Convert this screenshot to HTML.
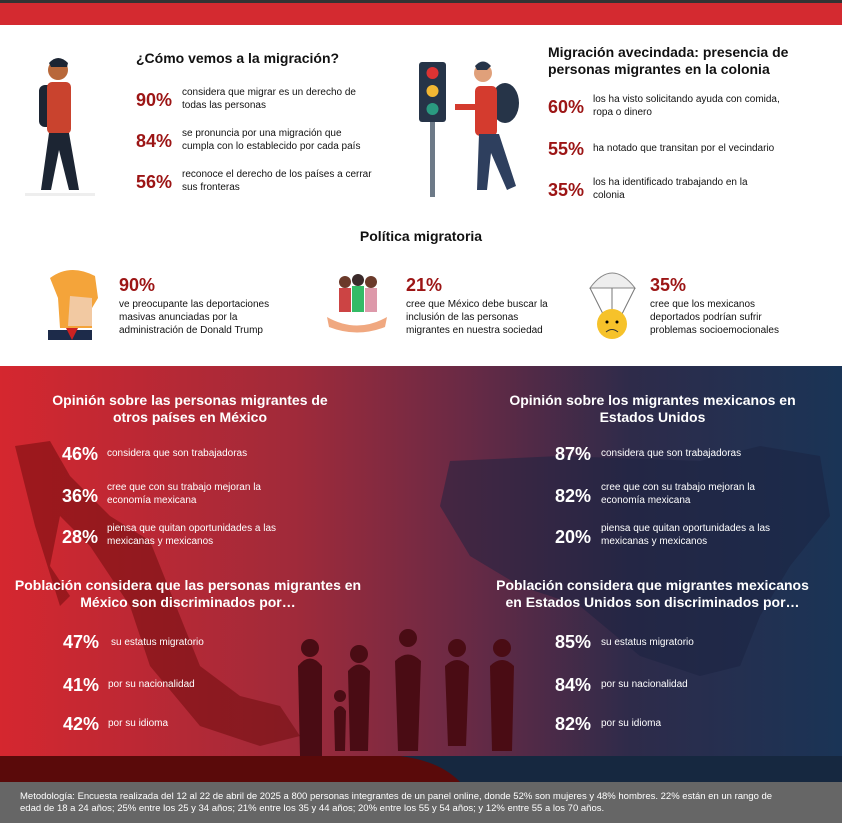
<!DOCTYPE html>
<html><head><meta charset="utf-8"><style>
*{margin:0;padding:0;box-sizing:border-box}
body{width:842px;height:823px;position:relative;overflow:hidden;background:#fff;font-family:"Liberation Sans",sans-serif;color:#111}
.a{position:absolute}
.h{font-weight:bold;font-size:14px;line-height:17px}
.n{font-weight:bold;font-size:18px;color:#9c1515;position:absolute}
.t{font-size:10px;line-height:13px;position:absolute}
.w .n{color:#fff}
.w .t{color:#fff}
.w .h{color:#fff}
</style></head><body>
<div class="a" style="left:0;top:0;width:842px;height:3px;background:#333"></div>
<div class="a" style="left:0;top:3px;width:842px;height:22px;background:#d42a30"></div>

<svg class="a" style="left:25px;top:55px" width="70" height="145">
<circle cx="33" cy="15" r="10" fill="#b8683a"/><path d="M24 8 Q33 -2 43 8 L42 12 L26 12Z" fill="#1c2533"/>
<rect x="14" y="30" width="18" height="42" rx="6" fill="#1c2533"/>
<rect x="22" y="27" width="24" height="52" rx="5" fill="#c9432e"/>
<path d="M24 78 L16 135 L26 135 L34 95 L44 135 L54 135 L44 78Z" fill="#1c2533"/>
<rect x="0" y="138" width="70" height="3" fill="#eee"/>
</svg>
<div class="a h" style="left:136px;top:50px">¿Cómo vemos a la migración?</div>
<div class="n" style="left:136px;top:90px">90%</div><div class="t" style="left:182px;top:86px">considera que migrar es un derecho de<br>todas las personas</div>
<div class="n" style="left:136px;top:131px">84%</div><div class="t" style="left:182px;top:127px">se pronuncia por una migración que<br>cumpla con lo establecido por cada país</div>
<div class="n" style="left:136px;top:172px">56%</div><div class="t" style="left:182px;top:168px">reconoce el derecho de los países a cerrar<br>sus fronteras</div>

<svg class="a" style="left:415px;top:58px" width="120" height="140">
<rect x="4" y="4" width="27" height="60" rx="3" fill="#263448"/>
<circle cx="17.5" cy="15" r="6" fill="#d33"/><circle cx="17.5" cy="33" r="6" fill="#f2b733"/><circle cx="17.5" cy="51" r="6" fill="#2a9a80"/>
<rect x="15" y="64" width="5" height="75" fill="#6d7a88"/>
<circle cx="68" cy="15" r="9" fill="#e0a07a"/><path d="M60 8 Q68 -1 76 8 L72 12 L62 12Z" fill="#263448"/>
<ellipse cx="90" cy="45" rx="14" ry="20" fill="#263448"/>
<rect x="60" y="28" width="22" height="50" rx="5" fill="#d43b2e"/>
<rect x="40" y="46" width="25" height="6" fill="#d43b2e"/>
<path d="M64 76 L62 132 L72 132 L76 95 L92 132 L101 128 L84 76Z" fill="#2e3f5e"/>
</svg>
<div class="a h" style="left:548px;top:44px">Migración avecindada: presencia de<br>personas migrantes en la colonia</div>
<div class="n" style="left:548px;top:97px">60%</div><div class="t" style="left:593px;top:93px">los ha visto solicitando ayuda con comida,<br>ropa o dinero</div>
<div class="n" style="left:548px;top:139px">55%</div><div class="t" style="left:593px;top:142px">ha notado que transitan por el vecindario</div>
<div class="n" style="left:548px;top:180px">35%</div><div class="t" style="left:593px;top:176px">los ha identificado trabajando en la<br>colonia</div>

<div class="a h" style="left:0;width:842px;text-align:center;top:228px">Política migratoria</div>
<svg class="a" style="left:40px;top:268px" width="60" height="72"><path d="M10 10 Q30 -5 55 8 L58 30 L52 40 L52 60 L20 60 L18 30Z" fill="#f4a43a"/><path d="M8 62 L52 62 L52 72 L8 72Z" fill="#1d2b4a"/><path d="M26 60 L32 72 L38 60Z" fill="#c22"/><path d="M30 28 L52 30 L52 58 L28 58Z" fill="#f2c9a2"/></svg>
<div class="n" style="left:119px;top:275px">90%</div><div class="t" style="left:119px;top:298px">ve preocupante las deportaciones<br>masivas anunciadas por la<br>administración de Donald Trump</div>
<svg class="a" style="left:325px;top:272px" width="65" height="65"><circle cx="20" cy="10" r="6" fill="#6b3a2a"/><circle cx="33" cy="8" r="6" fill="#3a2a2a"/><circle cx="46" cy="10" r="6" fill="#6b3a2a"/><rect x="14" y="16" width="12" height="24" fill="#c44"/><rect x="27" y="14" width="12" height="26" fill="#3b6"/><rect x="40" y="16" width="12" height="24" fill="#d9a"/><path d="M2 45 Q32 62 62 45 L60 55 Q32 66 4 55Z" fill="#f0a880"/></svg>
<div class="n" style="left:406px;top:275px">21%</div><div class="t" style="left:406px;top:298px">cree que México debe buscar la<br>inclusión de las personas<br>migrantes en nuestra sociedad</div>
<svg class="a" style="left:585px;top:266px" width="55" height="78"><path d="M5 22 Q27 -8 50 22Z" fill="#eee" stroke="#888"/><path d="M5 22 L20 52 M50 22 L35 52 M27 22 L27 50" stroke="#777"/><circle cx="27" cy="58" r="15" fill="#f6c22a"/><path d="M21 66 Q27 61 33 66" stroke="#333" fill="none"/><circle cx="22" cy="56" r="1.5"/><circle cx="32" cy="56" r="1.5"/></svg>
<div class="n" style="left:650px;top:275px">35%</div><div class="t" style="left:650px;top:298px">cree que los mexicanos<br>deportados podrían sufrir<br>problemas socioemocionales</div>

<div class="a" style="left:0;top:366px;width:842px;height:416px;background:linear-gradient(90deg,#d5272f 0%,#a02a3a 35%,#6a2a45 55%,#2e2b4a 75%,#1a3456 100%)"></div>
<svg class="a" style="left:0;top:366px" width="842" height="416">
<path d="M15 80 L50 75 L70 110 L110 150 L150 175 L180 250 L200 300 L240 330 L280 340 L300 370 L260 380 L200 360 L150 300 L130 240 L90 180 L60 150 L50 200 L70 230 L60 240 L35 160Z" fill="#6a0a0a" opacity=".5"/>
<path d="M450 95 L560 90 L700 95 L760 80 L820 90 L830 150 L790 200 L760 250 L740 300 L700 310 L640 290 L580 240 L520 220 L470 190 L440 140Z" fill="#1a2140" opacity=".5"/>
<rect x="0" y="390" width="842" height="26" fill="#5a0a0a"/>
<path d="M400 390 Q440 395 460 416 L842 416 L842 390Z" fill="#162840"/>
<g fill="#4a0c14"><path d="M298 300 Q310 285 322 300 L322 390 L300 390Z"/><path d="M348 305 Q359 292 370 305 L368 385 L350 385Z"/><path d="M395 295 Q408 282 421 295 L418 385 L398 385Z"/><path d="M445 300 Q457 288 469 300 L466 380 L448 380Z"/><path d="M490 300 Q502 288 514 300 L512 385 L492 385Z"/><path d="M334 345 Q340 335 346 345 L345 385 L335 385Z"/>
<circle cx="310" cy="282" r="9"/><circle cx="359" cy="288" r="9"/><circle cx="408" cy="272" r="9"/><circle cx="457" cy="282" r="9"/><circle cx="502" cy="282" r="9"/><circle cx="340" cy="330" r="6"/></g>
</svg>
<div class="w">
<div class="a h" style="left:30px;width:320px;text-align:center;top:392px">Opinión sobre las personas migrantes de<br>otros países en México</div>
<div class="n" style="left:62px;top:444px">46%</div><div class="t" style="left:107px;top:447px">considera que son trabajadoras</div>
<div class="n" style="left:62px;top:486px">36%</div><div class="t" style="left:107px;top:481px">cree que con su trabajo mejoran la<br>economía mexicana</div>
<div class="n" style="left:62px;top:527px">28%</div><div class="t" style="left:107px;top:522px">piensa que quitan oportunidades a las<br>mexicanas y mexicanos</div>
<div class="a h" style="left:0;width:376px;text-align:center;top:577px">Población considera que las personas migrantes en<br>México son discriminados por…</div>
<div class="n" style="left:63px;top:632px">47%</div><div class="t" style="left:111px;top:636px">su estatus migratorio</div>
<div class="n" style="left:63px;top:675px">41%</div><div class="t" style="left:108px;top:678px">por su nacionalidad</div>
<div class="n" style="left:63px;top:714px">42%</div><div class="t" style="left:108px;top:717px">por su idioma</div>

<div class="a h" style="left:490px;width:325px;text-align:center;top:392px">Opinión sobre los migrantes mexicanos en<br>Estados Unidos</div>
<div class="n" style="left:555px;top:444px">87%</div><div class="t" style="left:601px;top:447px">considera que son trabajadoras</div>
<div class="n" style="left:555px;top:486px">82%</div><div class="t" style="left:601px;top:481px">cree que con su trabajo mejoran la<br>economía mexicana</div>
<div class="n" style="left:555px;top:527px">20%</div><div class="t" style="left:601px;top:522px">piensa que quitan oportunidades a las<br>mexicanas y mexicanos</div>
<div class="a h" style="left:490px;width:325px;text-align:center;top:577px">Población considera que migrantes mexicanos<br>en Estados Unidos son discriminados por…</div>
<div class="n" style="left:555px;top:632px">85%</div><div class="t" style="left:601px;top:636px">su estatus migratorio</div>
<div class="n" style="left:555px;top:675px">84%</div><div class="t" style="left:601px;top:678px">por su nacionalidad</div>
<div class="n" style="left:555px;top:714px">82%</div><div class="t" style="left:601px;top:717px">por su idioma</div>
</div>

<div class="a" style="left:0;top:782px;width:842px;height:41px;background:#666"></div>
<div class="a" style="left:20px;top:791px;width:800px;font-size:9.5px;line-height:12px;color:#fff">Metodología: Encuesta realizada del 12 al 22 de abril de 2025 a 800 personas integrantes de un panel online, donde 52% son mujeres y 48% hombres. 22% están en un rango de<br>edad de 18 a 24 años; 25% entre los 25 y 34 años; 21% entre los 35 y 44 años; 20% entre los 55 y 54 años; y 12% entre 55 a los 70 años.</div>
</body></html>
